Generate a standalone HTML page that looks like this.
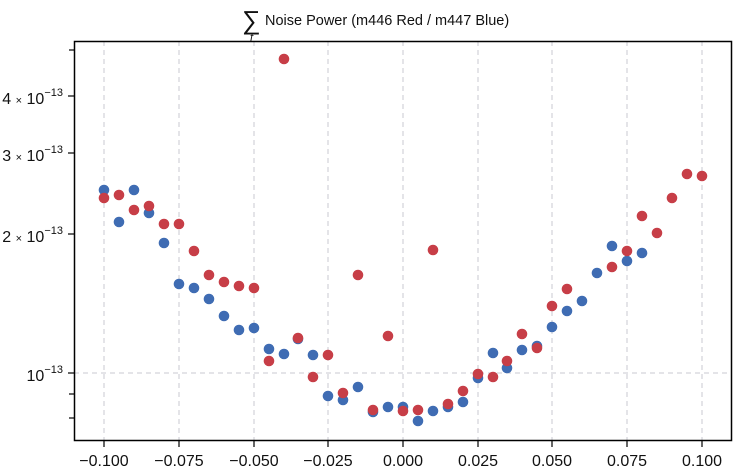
<!DOCTYPE html>
<html><head><style>body{margin:0;background:#fff}svg{display:block}</style></head><body>
<svg width="736" height="472" xmlns="http://www.w3.org/2000/svg" font-family="Liberation Sans, sans-serif">
<rect width="736" height="472" fill="#fff"/>
<g stroke="#c8c8d0" stroke-dasharray="5,4" stroke-width="1">
<line x1="104" y1="41" x2="104" y2="440"/><line x1="179" y1="41" x2="179" y2="440"/><line x1="254" y1="41" x2="254" y2="440"/><line x1="328" y1="41" x2="328" y2="440"/><line x1="403" y1="41" x2="403" y2="440"/><line x1="478" y1="41" x2="478" y2="440"/><line x1="552" y1="41" x2="552" y2="440"/><line x1="627" y1="41" x2="627" y2="440"/><line x1="702" y1="41" x2="702" y2="440"/>
<line x1="74" y1="373" x2="731" y2="373"/>
</g>
<g fill="#3f6cb3">
<circle cx="104" cy="190" r="5.3"/><circle cx="119" cy="222" r="5.3"/><circle cx="134" cy="190" r="5.3"/><circle cx="149" cy="213" r="5.3"/><circle cx="164" cy="243" r="5.3"/><circle cx="179" cy="284" r="5.3"/><circle cx="194" cy="288" r="5.3"/><circle cx="209" cy="299" r="5.3"/><circle cx="224" cy="316" r="5.3"/><circle cx="239" cy="330" r="5.3"/><circle cx="254" cy="328" r="5.3"/><circle cx="269" cy="349" r="5.3"/><circle cx="284" cy="354" r="5.3"/><circle cx="298" cy="339" r="5.3"/><circle cx="313" cy="355" r="5.3"/><circle cx="328" cy="396" r="5.3"/><circle cx="343" cy="400" r="5.3"/><circle cx="358" cy="387" r="5.3"/><circle cx="373" cy="412" r="5.3"/><circle cx="388" cy="407" r="5.3"/><circle cx="403" cy="407" r="5.3"/><circle cx="418" cy="421" r="5.3"/><circle cx="433" cy="411" r="5.3"/><circle cx="448" cy="407" r="5.3"/><circle cx="463" cy="402" r="5.3"/><circle cx="478" cy="378" r="5.3"/><circle cx="493" cy="353" r="5.3"/><circle cx="507" cy="368" r="5.3"/><circle cx="522" cy="350" r="5.3"/><circle cx="537" cy="346" r="5.3"/><circle cx="552" cy="327" r="5.3"/><circle cx="567" cy="311" r="5.3"/><circle cx="582" cy="301" r="5.3"/><circle cx="597" cy="273" r="5.3"/><circle cx="612" cy="246" r="5.3"/><circle cx="627" cy="261" r="5.3"/><circle cx="642" cy="253" r="5.3"/>
</g>
<g fill="#c73e47">
<circle cx="104" cy="198" r="5.3"/><circle cx="119" cy="195" r="5.3"/><circle cx="134" cy="210" r="5.3"/><circle cx="149" cy="206" r="5.3"/><circle cx="164" cy="224" r="5.3"/><circle cx="179" cy="224" r="5.3"/><circle cx="194" cy="251" r="5.3"/><circle cx="209" cy="275" r="5.3"/><circle cx="224" cy="282" r="5.3"/><circle cx="239" cy="286" r="5.3"/><circle cx="254" cy="288" r="5.3"/><circle cx="269" cy="361" r="5.3"/><circle cx="284" cy="59" r="5.3"/><circle cx="298" cy="338" r="5.3"/><circle cx="313" cy="377" r="5.3"/><circle cx="328" cy="355" r="5.3"/><circle cx="343" cy="393" r="5.3"/><circle cx="358" cy="275" r="5.3"/><circle cx="373" cy="410" r="5.3"/><circle cx="388" cy="336" r="5.3"/><circle cx="403" cy="411" r="5.3"/><circle cx="418" cy="410" r="5.3"/><circle cx="433" cy="250" r="5.3"/><circle cx="448" cy="404" r="5.3"/><circle cx="463" cy="391" r="5.3"/><circle cx="478" cy="374" r="5.3"/><circle cx="493" cy="377" r="5.3"/><circle cx="507" cy="361" r="5.3"/><circle cx="522" cy="334" r="5.3"/><circle cx="537" cy="348" r="5.3"/><circle cx="552" cy="306" r="5.3"/><circle cx="567" cy="289" r="5.3"/><circle cx="612" cy="267" r="5.3"/><circle cx="627" cy="251" r="5.3"/><circle cx="642" cy="216" r="5.3"/><circle cx="657" cy="233" r="5.3"/><circle cx="672" cy="198" r="5.3"/><circle cx="687" cy="174" r="5.3"/><circle cx="702" cy="176" r="5.3"/>
</g>
<rect x="74.5" y="41.5" width="657" height="399" fill="none" stroke="#000" stroke-width="1.5"/>
<g stroke="#000" stroke-width="1.2">
<line x1="68" y1="373" x2="74" y2="373"/><line x1="68" y1="234" x2="74" y2="234"/><line x1="68" y1="153" x2="74" y2="153"/><line x1="68" y1="96" x2="74" y2="96"/><line x1="69" y1="50" x2="74" y2="50"/><line x1="69" y1="394" x2="74" y2="394"/><line x1="69" y1="418" x2="74" y2="418"/>
<line x1="104" y1="441" x2="104" y2="447"/><line x1="179" y1="441" x2="179" y2="447"/><line x1="254" y1="441" x2="254" y2="447"/><line x1="328" y1="441" x2="328" y2="447"/><line x1="403" y1="441" x2="403" y2="447"/><line x1="478" y1="441" x2="478" y2="447"/><line x1="552" y1="441" x2="552" y2="447"/><line x1="627" y1="441" x2="627" y2="447"/><line x1="702" y1="441" x2="702" y2="447"/>
</g>
<g font-size="16" text-anchor="middle" fill="#111">
<text x="104" y="466">−0.100</text><text x="179" y="466">−0.075</text><text x="254" y="466">−0.050</text><text x="328" y="466">−0.025</text><text x="403" y="466">0.000</text><text x="478" y="466">0.025</text><text x="552" y="466">0.050</text><text x="627" y="466">0.075</text><text x="702" y="466">0.100</text>
</g>
<g font-size="16" fill="#111" text-anchor="end">
<text x="63" y="104">4 <tspan font-size="11">×</tspan> 10<tspan font-size="11" dy="-8">−13</tspan></text>
<text x="63" y="161">3 <tspan font-size="11">×</tspan> 10<tspan font-size="11" dy="-8">−13</tspan></text>
<text x="63" y="242">2 <tspan font-size="11">×</tspan> 10<tspan font-size="11" dy="-8">−13</tspan></text>
<text x="63" y="381">10<tspan font-size="11" dy="-8">−13</tspan></text>
</g>
<text x="242" y="29" font-size="26" fill="#111">∑</text>
<text x="250" y="41" font-size="11" font-style="italic" fill="#111">f</text>
<text x="265" y="25" font-size="14.5" fill="#111">Noise Power (m446 Red / m447 Blue)</text>
</svg>
</body></html>
